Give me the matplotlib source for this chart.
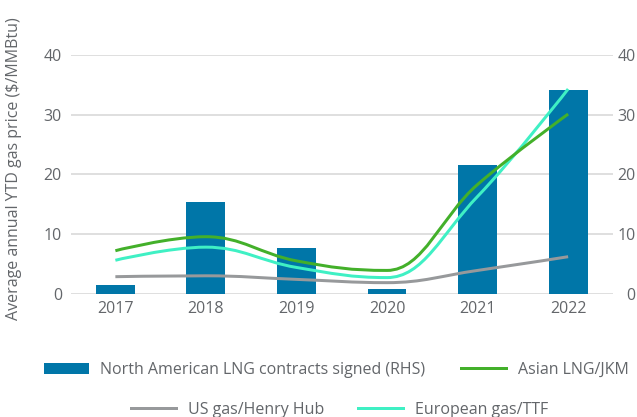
import matplotlib
matplotlib.use("Agg")
import matplotlib.pyplot as plt
from matplotlib.path import Path
from matplotlib.patches import PathPatch, Patch
from matplotlib.lines import Line2D
import numpy as np

plt.rcParams['font.family'] = ['Open Sans', 'DejaVu Sans']

years = ["2017", "2018", "2019", "2020", "2021", "2022"]
contracts_rhs = [1.4, 15.3, 7.6, 0.8, 21.6, 34.1]
asian_jkm = [7.2, 9.55, 5.5, 3.9, 18.3, 30.1]
us_henry_hub = [2.85, 3.0, 2.4, 1.85, 3.9, 6.2]
european_ttf = [5.6, 7.8, 4.4, 2.7, 16.3, 34.3]

BLUE = '#0076A8'
GREEN = '#43B02A'
GRAY = '#97999B'
TEAL = '#3FF0C4'
TXT = '#63666A'
FS = 11.5


def spline_path(xs, ys, smoothing=1.5):
    n = len(xs)
    denom = smoothing + 1
    lc = [None] * n
    rc = [None] * n
    for i in range(1, n - 1):
        px, py = xs[i], ys[i]
        lx, ly = xs[i - 1], ys[i - 1]
        nx, ny = xs[i + 1], ys[i + 1]
        lcx = (smoothing * px + lx) / denom
        lcy = (smoothing * py + ly) / denom
        rcx = (smoothing * px + nx) / denom
        rcy = (smoothing * py + ny) / denom
        corr = ((rcy - lcy) * (rcx - px)) / (rcx - lcx) + py - rcy
        lcy += corr
        rcy += corr
        if lcy > ly and lcy > py:
            lcy = max(ly, py)
            rcy = 2 * py - lcy
        elif lcy < ly and lcy < py:
            lcy = min(ly, py)
            rcy = 2 * py - lcy
        if rcy > ny and rcy > py:
            rcy = max(ny, py)
            lcy = 2 * py - rcy
        elif rcy < ny and rcy < py:
            rcy = min(ny, py)
            lcy = 2 * py - rcy
        lc[i] = (lcx, lcy)
        rc[i] = (rcx, rcy)
    verts = [(xs[0], ys[0])]
    codes = [Path.MOVETO]
    for i in range(1, n):
        c1 = rc[i - 1] if rc[i - 1] is not None else (xs[i - 1], ys[i - 1])
        c2 = lc[i] if lc[i] is not None else (xs[i], ys[i])
        verts += [c1, c2, (xs[i], ys[i])]
        codes += [Path.CURVE4] * 3
    return Path(verts, codes)


W, H = 637, 417
fig = plt.figure(figsize=(W / 100, H / 100), dpi=100)
left, right = 71 / W, 612.5 / W
bottom, top = 1 - 293.7 / H, 1 - 55 / H
ax = fig.add_axes([left, bottom, right - left, top - bottom])
ax2 = ax.twinx()
ax2.set_zorder(ax.get_zorder() - 1)
ax.patch.set_visible(False)

x = np.arange(len(years))
ax2.bar(x, contracts_rhs, width=0.43, color=BLUE, zorder=3)

lw = 3 * 72 / 100
for vals, col in [(us_henry_hub, GRAY), (european_ttf, TEAL), (asian_jkm, GREEN)]:
    p = spline_path(list(x.astype(float)), vals)
    ax.add_patch(PathPatch(p, facecolor='none', edgecolor=col, lw=lw,
                           capstyle='butt', joinstyle='round', zorder=4))

for a in (ax, ax2):
    a.set_ylim(0, 40)
    a.set_yticks([0, 10, 20, 30, 40])
    a.set_xlim(-0.49, 5.49)
    for s in a.spines.values():
        s.set_visible(False)
    a.tick_params(length=0, labelsize=FS, labelcolor=TXT)

ax2.grid(axis='y', color='#D9D9D9', lw=1.2, zorder=0)
ax2.set_axisbelow(True)
ax.set_xticks(x)
ax.set_xticklabels(years)
ax.tick_params(axis='x', pad=5)
ax.tick_params(axis='y', pad=6.5)
ax2.tick_params(axis='y', pad=16.5)
for t in ax2.get_yticklabels():
    t.set_horizontalalignment('right')

fig.text(14 / W, 1 - 169 / H, "Average annual YTD gas price ($/MMBtu)",
         rotation=90, ha='center', va='center', fontsize=FS, color=TXT)

items = [
    (Patch(facecolor=BLUE, edgecolor='none'), "North American LNG contracts signed (RHS)", 44, 370, 0.69),
    (Line2D([], [], color=GREEN, lw=lw), "Asian LNG/JKM", 461, 370, 0.75),
    (Line2D([], [], color=GRAY, lw=lw), "US gas/Henry Hub", 131, 410, 0.75),
    (Line2D([], [], color=TEAL, lw=lw), "European gas/TTF", 358, 410, 0.75),
]
for h, lab, px, py, tp in items:
    fig.legend([h], [lab], loc='center left', bbox_to_anchor=(px / W, 1 - py / H),
               bbox_transform=fig.transFigure, frameon=False, fontsize=FS,
               borderpad=0, borderaxespad=0, handlelength=2.8, handleheight=0.71,
               handletextpad=tp, labelcolor=TXT)

fig.savefig("out.png", dpi=100)
